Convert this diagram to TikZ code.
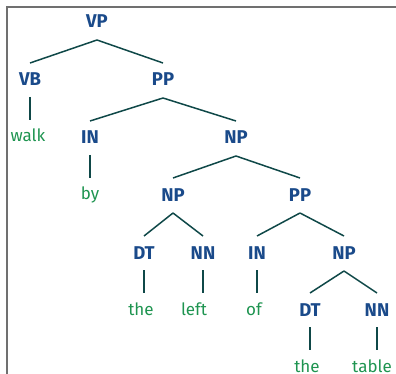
\documentclass[tikz,border=0pt]{standalone}
\usepackage{fontspec}
\setmainfont{Fira Sans}
\definecolor{tagblue}{HTML}{1A4A8A}
\definecolor{wordgreen}{HTML}{1E9450}
\definecolor{branch}{HTML}{0F4848}
\definecolor{framegray}{HTML}{707070}
\begin{document}
\begin{tikzpicture}[x=1pt,y=-1pt,
  tag/.style={font=\fontsize{18.5}{21}\selectfont\bfseries, text=tagblue, anchor=base, inner sep=0pt},
  word/.style={font=\fontsize{17}{20}\selectfont, text=wordgreen, anchor=base, inner sep=0pt},
  branchline/.style={draw=branch, line width=1.5pt}]
\useasboundingbox (0,0) rectangle (396,374);
% frame
\coordinate (fl) at (7,374);
\coordinate (fc) at (7,7);
\coordinate (fr) at (396,7);
\draw[framegray, line width=1.2pt] (fl) -- (fc) -- (fr);

% phrase and tag labels
\node[tag] (vp)  at (97,28)  {VP};
\node[tag] (vb)  at (30,86)  {VB};
\node[tag] (pp)  at (163,86) {PP};
\node[tag] (in)  at (90,144) {IN};
\node[tag] (np)  at (236,144) {NP};
\node[tag] (np2) at (173,201) {NP};
\node[tag] (pp2) at (300,201) {PP};
\node[tag] (dt)  at (144,259) {DT};
\node[tag] (nn)  at (203,259) {NN};
\node[tag] (in2) at (257,259) {IN};
\node[tag] (np3) at (344,259) {NP};
\node[tag] (dt2) at (310,316) {DT};
\node[tag] (nn2) at (377,316) {NN};

% words
\node[word] (w1) at (28,142)  {walk};
\node[word] (w2) at (90,200)  {by};
\node[word] (w3) at (141,315) {the};
\node[word] (w4) at (194,315) {left};
\node[word] (w5) at (254,315) {of};
\node[word] (w6) at (307,372) {the};
\node[word] (w7) at (372,372) {table};

% branches
\foreach \p/\c in {vp/vb, vp/pp, pp/in, pp/np, np/np2, np/pp2, np2/dt, np2/nn, pp2/in2, pp2/np3, np3/dt2, np3/nn2}
  \draw[branchline] ([yshift=-12pt]\p.base) -- ([yshift=23pt]\c.base);
% unary links to words
\foreach \p/\c in {vb/w1, in/w2, dt/w3, nn/w4, in2/w5, dt2/w6, nn2/w7}
  \draw[branchline] ([yshift=-11pt]\p.base) -- ([yshift=22pt]\p.base |- \c.base);
\end{tikzpicture}
\end{document}
